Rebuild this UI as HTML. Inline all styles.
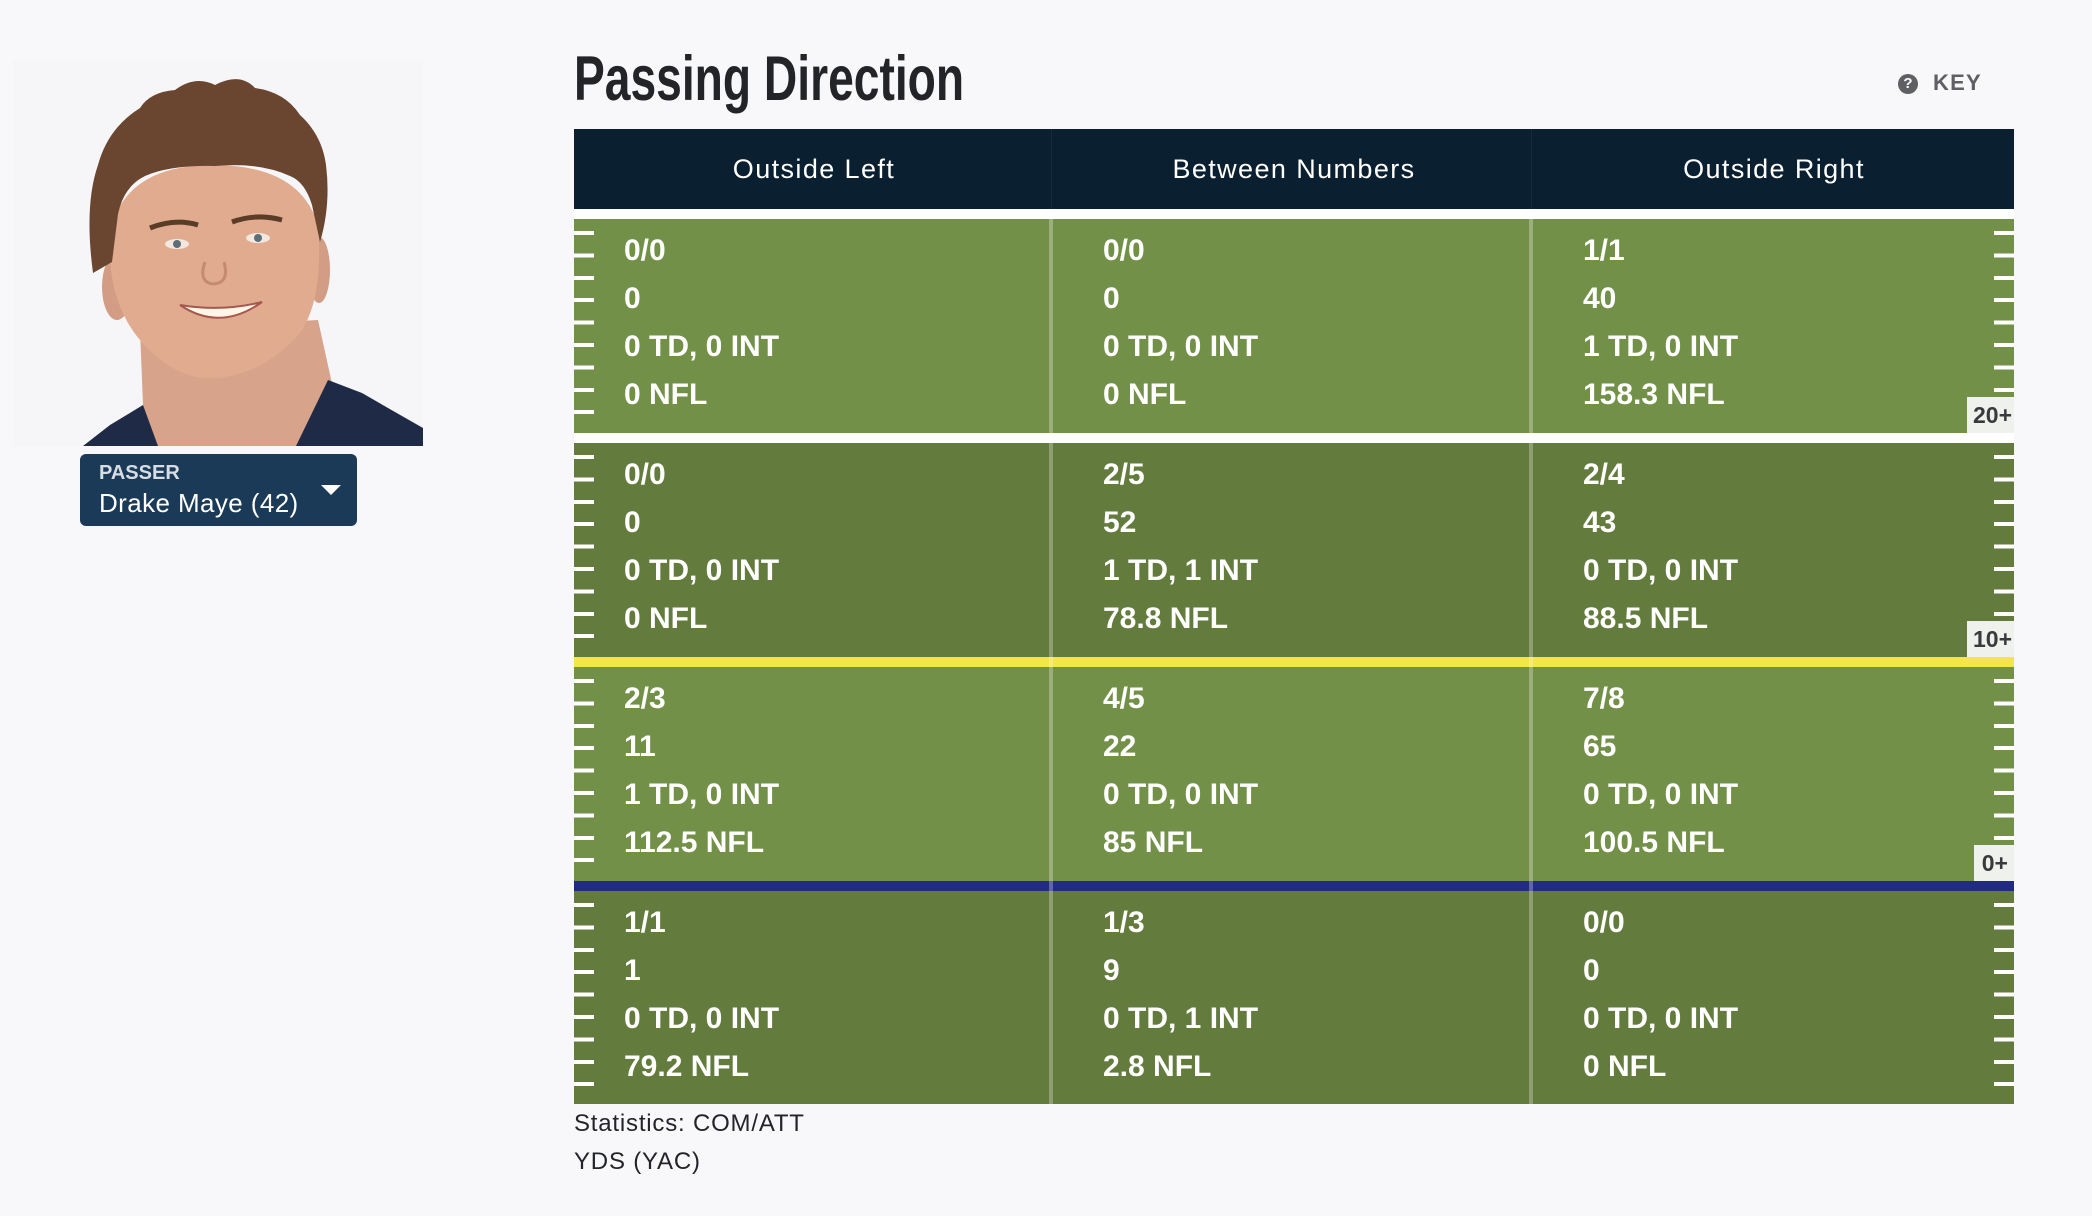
<!DOCTYPE html>
<html>
<head>
<meta charset="utf-8">
<style>
  html,body{margin:0;padding:0;}
  body{width:2092px;height:1216px;background:#f8f8fa;position:relative;overflow:hidden;font-family:"Liberation Sans",Arial,sans-serif;}
  .abs{position:absolute;}
  .title{left:574px;top:47.7px;font-size:63px;line-height:63px;font-weight:bold;color:#222428;white-space:nowrap;transform:scaleX(0.733);transform-origin:0 0;}
  .key{left:1933px;top:72.4px;font-size:22px;line-height:22px;font-weight:bold;color:#5f6064;letter-spacing:1.2px;}
  .qicon{left:1898px;top:74px;width:20px;height:20px;border-radius:50%;background:#5f6064;color:#fff;font-size:15px;line-height:20px;text-align:center;font-weight:bold;}
  .hdr{left:574px;top:129px;width:1440px;height:80px;background:#0a1f30;}
  .hcell{position:absolute;top:0;height:80px;width:480px;text-align:center;color:#fff;font-size:27px;line-height:80px;letter-spacing:1.4px;}
  .field{left:574px;top:209px;width:1440px;height:895px;background:#fff;}
  .row{position:absolute;left:574px;width:1440px;height:214px;}
  .light{background:#739048;}
  .dark{background:#637b3c;}
  .tick{position:absolute;width:20px;height:184px;background:repeating-linear-gradient(to bottom,#fff 0px,#fff 4px,transparent 4px,transparent 22.4px);}
  .cell{position:absolute;top:7.6px;color:#fff;font-weight:bold;font-size:30px;line-height:48px;white-space:nowrap;}
  .lbl{position:absolute;right:0;bottom:0;height:36px;line-height:36px;padding:0 2px 0 6px;background:#eff1ec;color:#3a3a3e;font-weight:bold;font-size:23px;}
  .vdiv{position:absolute;top:219px;height:885px;width:4px;background:rgba(255,255,255,0.28);}
  .foot{left:574px;top:1104.7px;font-size:24px;line-height:38px;color:#222428;letter-spacing:0.8px;}
  .btn{left:80px;top:454px;width:277px;height:72px;background:#1b3a57;border-radius:6px;}
</style>
</head>
<body>

<!-- Player photo approximation -->
<svg class="abs" style="left:0;top:0" width="440" height="460" viewBox="0 0 440 460">
  <rect x="13" y="60" width="410" height="386" fill="#f6f6f9"/>
  <!-- neck -->
  <path d="M140 330 L318 320 L333 388 L300 446 L155 446 L143 405 Z" fill="#d7a48b"/>
  <!-- shirt -->
  <path d="M83 446 L110 425 L143 405 L158 446 Z" fill="#1f2b46"/>
  <path d="M328 380 L362 393 L395 412 L423 428 L423 446 L296 446 Z" fill="#1f2b46"/>
  <!-- ears -->
  <ellipse cx="117" cy="287" rx="15" ry="33" fill="#d39c84"/>
  <ellipse cx="319" cy="270" rx="11" ry="33" fill="#d39c84"/>
  <!-- face -->
  <path d="M110 232 Q106 300 140 340 Q175 380 213 378 Q262 376 300 333 Q324 298 318 225 Q300 165 213 165 Q125 165 110 232 Z" fill="#e1ab90"/>
  <!-- hair -->
  <path d="M93 273 Q84 205 98 165 Q108 128 140 108 Q150 92 175 90 Q195 75 215 85 Q240 72 255 88 Q285 92 300 115 Q322 135 326 165 Q331 205 320 242 L312 205 Q305 182 290 176 Q260 162 215 166 Q170 165 145 176 Q124 186 118 214 L112 262 Z" fill="#6a4630"/>
  <!-- brows -->
  <path d="M150 228 Q175 218 198 225" stroke="#5a3d27" stroke-width="5" fill="none"/>
  <path d="M232 222 Q256 213 282 220" stroke="#5a3d27" stroke-width="5" fill="none"/>
  <!-- eyes -->
  <ellipse cx="177" cy="244" rx="12" ry="5" fill="#f2e8e0"/>
  <circle cx="177" cy="244" r="4" fill="#5d6e78"/>
  <ellipse cx="258" cy="238" rx="12" ry="5" fill="#f2e8e0"/>
  <circle cx="258" cy="238" r="4" fill="#5d6e78"/>
  <!-- nose -->
  <path d="M205 262 Q198 282 213 284 Q230 283 224 262" stroke="#c58a72" stroke-width="3" fill="none"/>
  <!-- mouth -->
  <path d="M180 305 Q220 332 262 302 Q222 312 180 305 Z" fill="#fff6e8" stroke="#a5584e" stroke-width="2"/>
</svg>

<!-- Passer dropdown -->
<div class="abs btn"></div>
<div class="abs" style="left:99px;top:463px;font-size:20px;line-height:20px;font-weight:bold;color:#d8dde3;">PASSER</div>
<div class="abs" style="left:99px;top:490px;font-size:26px;line-height:26px;color:#fff;letter-spacing:0.4px;white-space:nowrap;">Drake Maye (42)</div>
<div class="abs" style="left:321px;top:485px;width:0;height:0;border-left:10px solid transparent;border-right:10px solid transparent;border-top:10px solid #fff;"></div>

<!-- Title & key -->
<div class="abs title">Passing Direction</div>
<div class="abs qicon">?</div>
<div class="abs key">KEY</div>

<!-- Header -->
<div class="abs hdr">
  <div class="hcell" style="left:0;">Outside Left</div>
  <div class="hcell" style="left:480px;">Between Numbers</div>
  <div class="hcell" style="left:960px;">Outside Right</div>
  <div style="position:absolute;left:477px;top:0;width:1px;height:80px;background:rgba(255,255,255,0.05);"></div>
  <div style="position:absolute;left:957px;top:0;width:1px;height:80px;background:rgba(255,255,255,0.05);"></div>
</div>

<!-- Field -->
<div class="abs field"></div>

<!-- Row 1 -->
<div class="row light" style="top:219px;">
  <div class="tick" style="left:0;top:12px;"></div>
  <div class="tick" style="right:0;top:12px;"></div>
  <div class="cell" style="left:50px;">0/0<br>0<br>0 TD, 0 INT<br>0 NFL</div>
  <div class="cell" style="left:529px;">0/0<br>0<br>0 TD, 0 INT<br>0 NFL</div>
  <div class="cell" style="left:1009px;">1/1<br>40<br>1 TD, 0 INT<br>158.3 NFL</div>
  <div class="lbl">20+</div>
</div>

<!-- Row 2 -->
<div class="row dark" style="top:443px;">
  <div class="tick" style="left:0;top:12px;"></div>
  <div class="tick" style="right:0;top:12px;"></div>
  <div class="cell" style="left:50px;">0/0<br>0<br>0 TD, 0 INT<br>0 NFL</div>
  <div class="cell" style="left:529px;">2/5<br>52<br>1 TD, 1 INT<br>78.8 NFL</div>
  <div class="cell" style="left:1009px;">2/4<br>43<br>0 TD, 0 INT<br>88.5 NFL</div>
  <div class="lbl">10+</div>
</div>

<!-- Yellow line -->
<div class="abs" style="left:574px;top:657px;width:1440px;height:10px;background:#f3e54b;"></div>

<!-- Row 3 -->
<div class="row light" style="top:667px;">
  <div class="tick" style="left:0;top:12px;"></div>
  <div class="tick" style="right:0;top:12px;"></div>
  <div class="cell" style="left:50px;">2/3<br>11<br>1 TD, 0 INT<br>112.5 NFL</div>
  <div class="cell" style="left:529px;">4/5<br>22<br>0 TD, 0 INT<br>85 NFL</div>
  <div class="cell" style="left:1009px;">7/8<br>65<br>0 TD, 0 INT<br>100.5 NFL</div>
  <div class="lbl" style="padding:0 6px 0 8px;">0+</div>
</div>

<!-- Blue line -->
<div class="abs" style="left:574px;top:881px;width:1440px;height:10px;background:#222c7e;"></div>

<!-- Row 4 -->
<div class="row dark" style="top:891px;height:213px;">
  <div class="tick" style="left:0;top:12px;"></div>
  <div class="tick" style="right:0;top:12px;"></div>
  <div class="cell" style="left:50px;">1/1<br>1<br>0 TD, 0 INT<br>79.2 NFL</div>
  <div class="cell" style="left:529px;">1/3<br>9<br>0 TD, 1 INT<br>2.8 NFL</div>
  <div class="cell" style="left:1009px;">0/0<br>0<br>0 TD, 0 INT<br>0 NFL</div>
</div>

<!-- Column dividers -->
<div class="vdiv" style="left:1049px;"></div>
<div class="vdiv" style="left:1529px;"></div>

<!-- Footer -->
<div class="abs foot">Statistics: COM/ATT<br>YDS (YAC)</div>

</body>
</html>
